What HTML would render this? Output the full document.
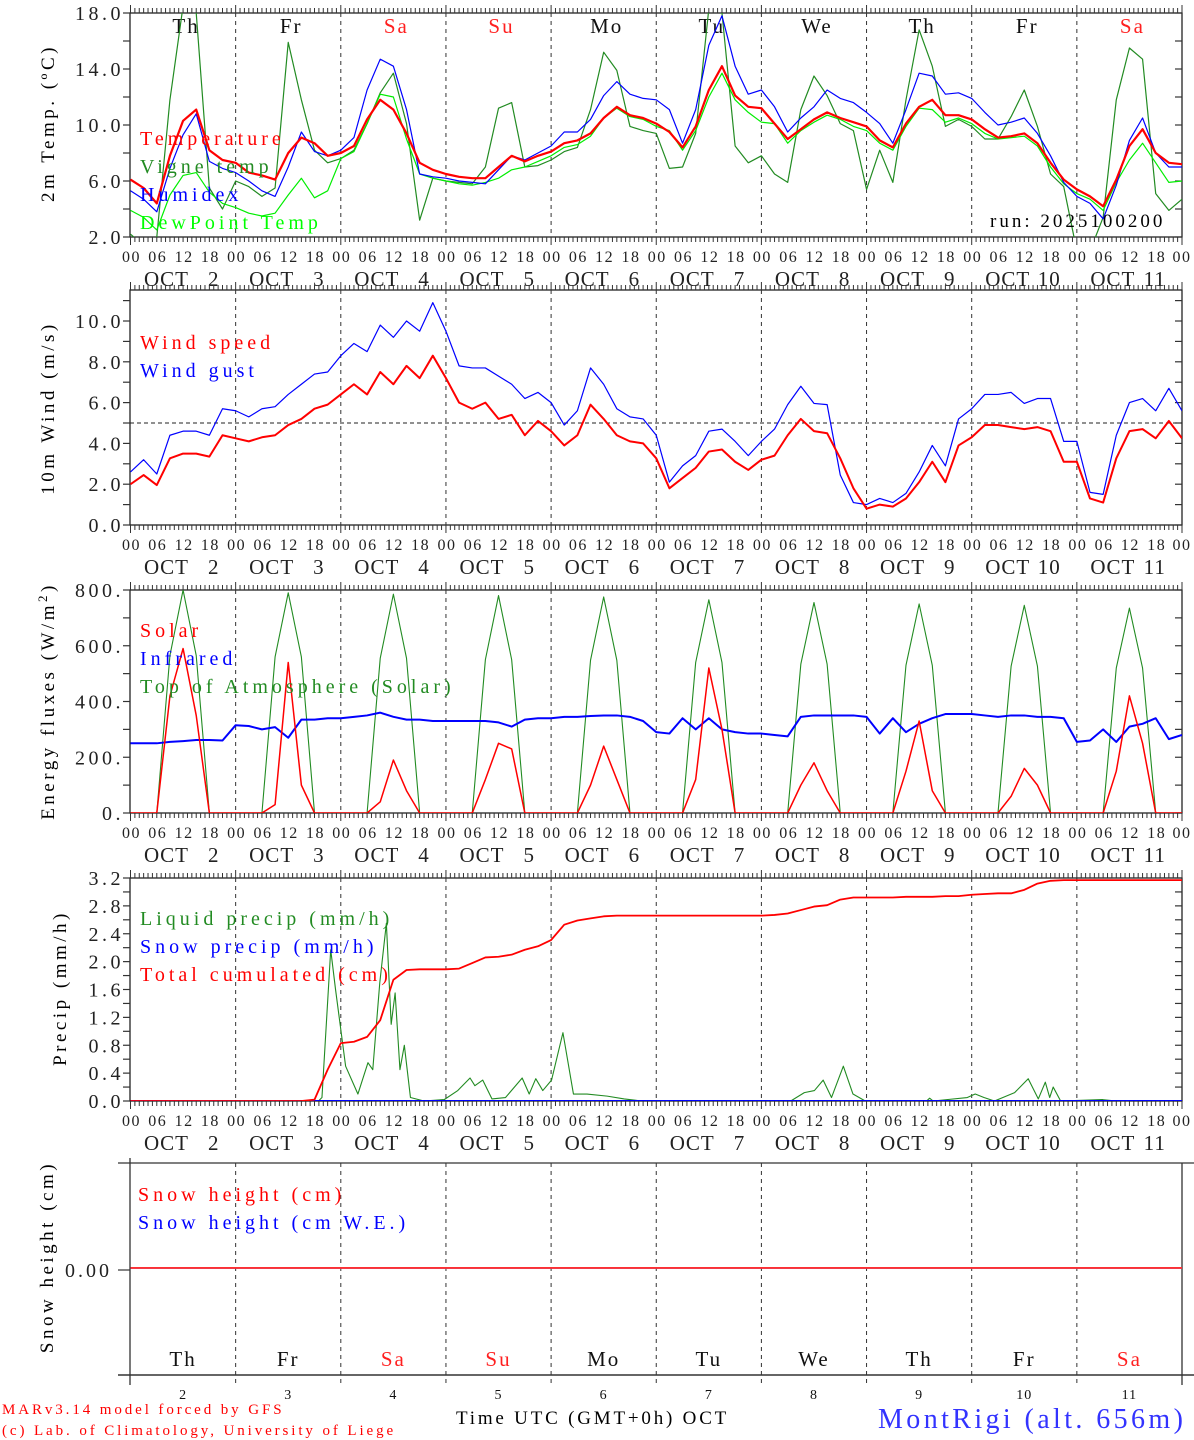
<!DOCTYPE html>
<html><head><meta charset="utf-8">
<style>
html,body{margin:0;padding:0;background:#fff;}
svg{display:block;font-family:"Liberation Serif",serif;}
.lg{letter-spacing:4px;}
.yt{letter-spacing:3.5px;}
</style></head>
<body>
<svg id="chart" width="1194" height="1440" viewBox="0 0 1194 1440" xmlns="http://www.w3.org/2000/svg">
<rect x="0" y="0" width="1194" height="1440" fill="#fff"/>
<defs>
<clipPath id="c1"><rect x="130" y="13" width="1052" height="224"/></clipPath>
<clipPath id="c2"><rect x="130" y="290" width="1052" height="235"/></clipPath>
<clipPath id="c3"><rect x="130" y="590" width="1052" height="223"/></clipPath>
<clipPath id="c4"><rect x="130" y="878" width="1052" height="223"/></clipPath>
</defs>
<g id="axes"></g>
<g id="marks"></g>
<!-- y titles -->
<text class="yt" transform="translate(54,123) rotate(-90)" text-anchor="middle" font-size="19">2m Temp. (ºC)</text>
<text class="yt" transform="translate(54,408) rotate(-90)" text-anchor="middle" font-size="19">10m Wind (m/s)</text>
<text class="yt" transform="translate(54,701) rotate(-90)" text-anchor="middle" font-size="19">Energy fluxes (W/m<tspan dy="-7" font-size="13">2</tspan><tspan dy="7">)</tspan></text>
<text class="yt" transform="translate(66,988) rotate(-90)" text-anchor="middle" font-size="19">Precip (mm/h)</text>
<text class="yt" transform="translate(53,1257) rotate(-90)" text-anchor="middle" font-size="19">Snow height (cm)</text>
<!-- legends -->
<g font-size="20" class="lg">
<text x="140" y="145" fill="#ff0000">Temperature</text>
<text x="140" y="173" fill="#228b22">Vigne temp</text>
<text x="140" y="201" fill="#0000ff">Humidex</text>
<text x="140" y="229" fill="#00ff00">DewPoint Temp</text>
<text x="990" y="227" fill="#000" font-size="19" style="letter-spacing:3px">run: 2025100200</text>
<text x="140" y="349" fill="#ff0000">Wind speed</text>
<text x="140" y="377" fill="#0000ff">Wind gust</text>
<text x="140" y="637" fill="#ff0000">Solar</text>
<text x="140" y="665" fill="#0000ff">Infrared</text>
<text x="140" y="693" fill="#228b22">Top of Atmosphere (Solar)</text>
<text x="140" y="925" fill="#228b22">Liquid precip (mm/h)</text>
<text x="140" y="953" fill="#0000ff">Snow precip (mm/h)</text>
<text x="140" y="981" fill="#ff0000">Total cumulated (cm)</text>
<text x="138" y="1201" fill="#ff0000">Snow height (cm)</text>
<text x="138" y="1229" fill="#0000ff">Snow height (cm W.E.)</text>
</g>
<text x="2" y="1414" fill="#ff0000" font-size="15" style="letter-spacing:2.9px">MARv3.14 model forced by GFS</text>
<text x="2" y="1435" fill="#ff0000" font-size="15" style="letter-spacing:2.9px">(c) Lab. of Climatology, University of Liege</text>
<text x="456" y="1424" fill="#000" font-size="19" style="letter-spacing:2.8px">Time UTC (GMT+0h) OCT</text>
<text x="878" y="1428" fill="#3333ff" font-size="28" style="letter-spacing:3.4px">MontRigi (alt. 656m)</text>
</svg>
<script>
// ---- data (3-hourly from Oct 2 00 UTC) ----
const hours = [0,3,6,9,12,15,18,21,24,27,30,33,36,39,42,45,48,51,54,57,60,63,66,69,72,75,78,81,84,87,90,93,96,99,102,105,108,111,114,117,120,123,126,129,132,135,138,141,144,147,150,153,156,159,162,165,168,171,174,177,180,183,186,189,192,195,198,201,204,207,210,213,216,219,222,225,228,231,234,237,240];
const dayNames = ["Th","Fr","Sa","Su","Mo","Tu","We","Th","Fr","Sa"];
const dayNums = ["2","3","4","5","6","7","8","9","10","11"];
const hourLabels = ["00","06","12","18"];
const tempTicks = [2,6,10,14,18];
const tempTickLabels = ["2.0","6.0","10.0","14.0","18.0"];
const windTicks = [0,2,4,6,8,10];
const windTickLabels = ["0.0","2.0","4.0","6.0","8.0","10.0"];
const fluxTicks = [0,200,400,600,800];
const fluxTickLabels = ["0.","200.","400.","600.","800."];
const precipTicks = [0,0.4,0.8,1.2,1.6,2.0,2.4,2.8,3.2];
const precipTickLabels = ["0.0","0.4","0.8","1.2","1.6","2.0","2.4","2.8","3.2"];

const temperature = [6.1,5.5,4.4,7.8,10.3,11.1,8.2,7.5, 7.3,6.6,6.4,6.1,8.0,9.1,8.7,7.8, 8.0,8.5,10.4,11.8,11.1,9.4,7.3,6.8, 6.5,6.3,6.2,6.2,7.0,7.8,7.4,7.8, 8.1,8.7,8.9,9.4,10.5,11.3,10.7,10.5, 10.1,9.5,8.4,9.9,12.5,14.2,12.1,11.3, 11.2,10.1,9.0,9.7,10.4,10.9,10.5,10.2, 9.9,8.9,8.4,10.1,11.3,11.8,10.7,10.7, 10.4,9.7,9.1,9.2,9.4,8.7,7.3,6.1, 5.4,4.9,4.2,6.1,8.5,9.7,8.0,7.3,7.2];
const humidex = [5.3,4.7,3.8,6.9,9.3,10.8,7.4,6.9, 6.6,6.0,5.3,4.9,7.0,9.5,8.1,7.8, 8.2,9.1,12.5,14.7,14.2,11.1,6.5,6.3, 6.2,6.0,5.9,5.8,6.8,7.8,7.5,8.0, 8.5,9.5,9.5,10.4,12.1,13.1,12.2,11.9, 11.8,11.1,8.7,11.1,15.7,17.8,14.2,12.2, 12.5,11.3,9.5,10.5,11.3,12.5,11.9,11.6, 10.9,10.1,8.7,11.1,13.7,13.5,12.2,12.3, 11.9,10.9,10.0,10.2,10.5,9.4,7.8,5.9, 4.9,4.4,3.3,5.7,8.9,10.5,8.0,7.0,7.0];
const dewpoint = [3.9,3.4,2.5,5.0,6.4,6.6,5.2,4.4, 4.1,3.7,3.5,3.7,5.0,6.2,4.8,5.3, 7.6,8.1,10.1,12.2,12.0,9.0,6.5,6.2, 6.0,5.8,5.7,5.9,6.2,6.8,7.0,7.4, 7.8,8.4,8.6,9.2,10.5,11.2,10.6,10.4, 9.9,9.6,8.2,9.6,12.0,13.7,11.8,10.9, 10.2,10.1,8.7,9.6,10.2,10.7,10.4,9.9, 9.6,8.7,8.2,9.9,11.2,11.1,10.2,10.5, 10.1,9.4,9.0,9.1,9.2,8.5,7.0,5.8, 5.1,4.7,3.9,5.9,7.5,8.7,7.3,5.9,6.0];
const vigneTemp = [2.2,1.4,2.0,11.8,18.5,18.0,5.5,4.0, 6.0,5.6,4.9,5.5,15.9,11.8,8.2,7.3, 7.6,8.2,10.1,12.3,13.7,10.1,3.2,6.2, 6.0,5.9,5.8,7.0,11.2,11.6,7.0,7.1, 7.5,8.1,8.4,11.1,15.2,13.9,9.9,9.6, 9.4,6.9,7.0,9.4,18.3,18.0,8.5,7.3, 7.8,6.5,5.9,11.1,13.5,12.1,10.1,9.6, 5.4,8.2,5.9,11.8,16.8,14.2,9.9,10.4, 9.9,9.0,9.0,10.6,12.5,9.9,6.5,5.6, 1.0,1.0,3.4,11.8,15.5,14.7,5.1,3.9,4.7];

const windSpeed = [2.0,2.45,1.96,3.27,3.5,3.5,3.35,4.4, 4.25,4.1,4.3,4.4,4.9,5.2,5.7,5.9, 6.4,6.9,6.4,7.5,6.9,7.8,7.2,8.3, 7.2,6.0,5.7,6.0,5.2,5.4,4.4,5.1, 4.6,3.9,4.4,5.9,5.2,4.4,4.1,4.0, 3.27,1.8,2.3,2.8,3.6,3.7,3.1,2.7, 3.2,3.4,4.4,5.2,4.6,4.5,3.27,1.8, 0.8,1.0,0.9,1.3,2.1,3.1,2.1,3.9, 4.3,4.9,4.9,4.8,4.7,4.8,4.6,3.1, 3.1,1.3,1.1,3.27,4.6,4.7,4.25,5.1,4.25];
const windGust = [2.6,3.2,2.5,4.4,4.6,4.6,4.4,5.7, 5.6,5.3,5.7,5.8,6.4,6.9,7.4,7.5, 8.3,8.9,8.5,9.8,9.2,10.0,9.5,10.9, 9.5,7.8,7.7,7.7,7.3,6.9,6.2,6.5, 6.0,4.9,5.6,7.7,6.9,5.7,5.3,5.2, 4.4,2.1,2.9,3.4,4.6,4.7,4.1,3.4, 4.1,4.7,5.9,6.8,5.96,5.9,2.45,1.1, 1.0,1.3,1.1,1.55,2.6,3.9,2.9,5.2, 5.7,6.4,6.4,6.5,5.96,6.2,6.2,4.1, 4.1,1.6,1.5,4.4,6.0,6.2,5.6,6.7,5.6];

const solar = [0,0,0,420,590,350,0,0, 0,0,0,30,540,100,0,0, 0,0,0,40,190,80,0,0, 0,0,0,120,250,230,0,0, 0,0,0,100,240,120,0,0, 0,0,0,120,520,300,0,0, 0,0,0,100,180,80,0,0, 0,0,0,150,330,80,0,0, 0,0,0,60,160,100,0,0, 0,0,0,150,420,250,0,0,0];
const infrared = [250,250,250,255,258,262,262,260, 315,312,300,308,270,335,335,340, 340,345,350,360,345,335,335,330, 330,330,330,330,325,310,335,340, 340,345,345,348,350,350,345,330, 290,285,340,300,340,300,290,285, 285,280,275,345,350,350,350,350, 345,285,340,290,320,340,355,355, 355,350,345,350,350,345,345,340, 255,260,300,255,310,320,340,265,280];
const toaSolar = [0,0,0,565,800,565,0,0, 0,0,0,560,790,560,0,0, 0,0,0,555,785,555,0,0, 0,0,0,550,780,550,0,0, 0,0,0,548,775,548,0,0, 0,0,0,540,765,540,0,0, 0,0,0,534,755,534,0,0, 0,0,0,530,750,530,0,0, 0,0,0,527,745,527,0,0, 0,0,0,520,735,520,0,0,0];

const totalCumulated = [0,0,0,0,0,0,0,0, 0,0,0,0,0,0,0.02,0.45, 0.83,0.85,0.92,1.16,1.74,1.88,1.89,1.89, 1.89,1.9,1.98,2.06,2.07,2.1,2.17,2.22, 2.31,2.53,2.59,2.62,2.65,2.66,2.66,2.66, 2.66,2.66,2.66,2.66,2.66,2.66,2.66,2.66, 2.66,2.67,2.69,2.74,2.79,2.81,2.89,2.92, 2.92,2.92,2.92,2.93,2.93,2.93,2.94,2.94, 2.96,2.97,2.98,2.98,3.03,3.12,3.16,3.17, 3.17,3.17,3.17,3.17,3.17,3.17,3.17,3.17,3.17];
const snowPrecip = [0,0,0,0,0,0,0,0,0,0,0,0,0,0,0,0,0,0,0,0,0,0,0,0,0,0,0,0,0,0,0,0,0,0,0,0,0,0,0,0,0,0,0,0,0,0,0,0,0,0,0,0,0,0,0,0,0,0,0,0,0,0,0,0,0,0,0,0,0,0,0,0,0,0,0,0,0,0,0,0,0];
const precipHours = [0,42.9,43.7,45.7,46.8,49.1,51.9,54.2,55.3,56.9,58.4,59.5,60.4,61.5,62.5,63.9,67.0,71.6,74.7,77.5,78.6,80.4,82.5,85.6,89.4,91.0,92.5,94.1,96.1,98.7,101.1,104.2,108.8,112.7,116.6,150.7,153.8,156.1,158.1,160.0,162.7,164.9,167.7,181.7,182.4,183.2,186.3,191.0,192.8,194.8,197.2,201.8,204.9,207.2,208.8,209.8,210.6,212.3,221.9,225.0,240];
const liquidPrecip = [0,0,0.05,2.17,1.6,0.5,0.1,0.55,0.45,1.7,2.55,1.1,1.55,0.45,0.8,0.05,0,0.02,0.15,0.33,0.22,0.3,0.03,0.05,0.33,0.1,0.32,0.15,0.3,0.98,0.1,0.1,0.07,0.03,0,0,0.12,0.15,0.3,0.05,0.5,0.1,0,0,0.04,0,0.02,0.05,0.1,0.05,0,0.12,0.32,0.03,0.27,0.05,0.2,0,0.02,0,0];
const snowHeight = [0,0,0,0,0,0,0,0,0,0,0,0,0,0,0,0,0,0,0,0,0,0,0,0,0,0,0,0,0,0,0,0,0,0,0,0,0,0,0,0,0,0,0,0,0,0,0,0,0,0,0,0,0,0,0,0,0,0,0,0,0,0,0,0,0,0,0,0,0,0,0,0,0,0,0,0,0,0,0,0,0];
const snowHeightWE = [0,0,0,0,0,0,0,0,0,0,0,0,0,0,0,0,0,0,0,0,0,0,0,0,0,0,0,0,0,0,0,0,0,0,0,0,0,0,0,0,0,0,0,0,0,0,0,0,0,0,0,0,0,0,0,0,0,0,0,0,0,0,0,0,0,0,0,0,0,0,0,0,0,0,0,0,0,0,0,0,0];

// ---- scales ----
const X0 = 130.5, X1 = 1182, T1 = 240;
function xScale(t){ return X0 + t*(X1-X0)/T1; }
function yScale(p, v){ return p.bottom - (v - p.min)*(p.bottom - p.top)/(p.max - p.min); }
const P1 = {top:13,bottom:237,min:2,max:18};
const P2 = {top:290,bottom:525,min:0,max:11.52};
const P3 = {top:590,bottom:813,min:0,max:800};
const P4 = {top:878,bottom:1101,min:0,max:3.2};
const P5 = {top:1163,bottom:1375,min:-1.02,max:1.0};

const NS = "http://www.w3.org/2000/svg";
const axes = document.getElementById('axes');
const marks = document.getElementById('marks');
function mk(tag, attrs, parent){
  const e = document.createElementNS(NS, tag);
  for (const k in attrs) e.setAttribute(k, attrs[k]);
  (parent||axes).appendChild(e);
  return e;
}

function drawPanel(p, id, ticks, tickLabels, minorStep, showHours){
  const g = mk('g', {}, axes);
  
  
  const fr = mk('rect', {x:130, y:p.top, width:1052, height:p.bottom-p.top, fill:'none', stroke:'#222', 'stroke-width':1.3}, g);
  
  
  for (let d=1; d<10; d++){
    const x = xScale(d*24);
    const l = mk('line', {x1:x, x2:x, y1:p.top, y2:p.bottom, stroke:'#333', 'stroke-width':1, 'stroke-dasharray':'4,4'}, g);
    
    
  }
  for (let h=0; h<=240; h++){
    const x = xScale(h);
    const len = (h%24===0) ? 8 : 5;
    mk('line', {x1:x, x2:x, y1:p.top-len, y2:p.top, stroke:'#333', 'stroke-width':1}, g);
    mk('line', {x1:x, x2:x, y1:p.bottom, y2:p.bottom+len, stroke:'#333', 'stroke-width':1}, g);
  }
  for (let v=p.min; v<=p.max+1e-6; v+=minorStep){
    const y = yScale(p, v);
    mk('line', {x1:123, x2:130, y1:y, y2:y, stroke:'#333', 'stroke-width':1.2}, g);
    mk('line', {x1:1175, x2:1182, y1:y, y2:y, stroke:'#333', 'stroke-width':1.2}, g);
  }
  for (let i=0; i<ticks.length; i++){
    const t = mk('text', {x:124, y:yScale(p, ticks[i])+7, 'text-anchor':'end', 'font-size':20, fill:'#222', 'letter-spacing':'3.5px'}, g);
    
    
    t.textContent = tickLabels[i];
  }
  if (showHours){
    for (let d=0; d<10; d++){
      for (let k=0; k<4; k++){
        const t = mk('text', {x:xScale(d*24+k*6)+1, y:p.bottom+25, 'text-anchor':'middle', 'font-size':16, fill:'#222', 'letter-spacing':'1.5px'}, g);
        
        
        t.textContent = hourLabels[k];
      }
      const o = mk('text', {x:xScale(d*24)+36, y:p.bottom+49, 'text-anchor':'middle', 'font-size':21, fill:'#222', 'letter-spacing':'1px'}, g);
      
      
      o.textContent = 'OCT';
      const n = mk('text', {x:xScale(d*24)+89, y:p.bottom+49, 'text-anchor':'end', 'font-size':21, fill:'#222', 'letter-spacing':'1px'}, g);
      
      
      n.textContent = dayNums[d];
    }
    const t = mk('text', {x:1182, y:p.bottom+25, 'text-anchor':'middle', 'font-size':16, fill:'#222', 'letter-spacing':'1.5px'}, g);
    
    
    t.textContent = '00';
  }
}
drawPanel(P1, 'temp', tempTicks, tempTickLabels, 2, true);
drawPanel(P2, 'wind', windTicks, windTickLabels, 1, true);
drawPanel(P3, 'flux', fluxTicks, fluxTickLabels, 100, true);
drawPanel(P4, 'precip', precipTicks, precipTickLabels, 0.2, true);

const wl = mk('line', {x1:130, x2:1182, y1:yScale(P2,5), y2:yScale(P2,5), stroke:'#222', 'stroke-width':1, 'stroke-dasharray':'4,3'}, axes);



for (let d=0; d<10; d++){
  const t = mk('text', {x:xScale(d*24+12)+3, y:33, 'text-anchor':'middle', 'font-size':21, fill:(dayNames[d]==='Sa'||dayNames[d]==='Su')?'#ff2020':'#111', 'letter-spacing':'2px'}, axes);
  
  
  t.textContent = dayNames[d];
}

(function(){
  const g = mk('g', {}, axes);
  
  
  mk('line', {x1:118, x2:1194, y1:P5.top, y2:P5.top, stroke:'#333', 'stroke-width':1.3}, g);
  mk('line', {x1:118, x2:1194, y1:P5.bottom, y2:P5.bottom, stroke:'#666', 'stroke-width':2}, g);
  mk('line', {x1:130, x2:130, y1:P5.top-5, y2:P5.bottom+10, stroke:'#333', 'stroke-width':1.3}, g);
  mk('line', {x1:1182, x2:1182, y1:P5.top, y2:P5.bottom+10, stroke:'#333', 'stroke-width':1.3}, g);
  mk('line', {x1:118, x2:130, y1:1270, y2:1270, stroke:'#333', 'stroke-width':1.2}, g);
  const tl = mk('text', {x:112, y:1277, 'text-anchor':'end', 'font-size':20, fill:'#222', 'letter-spacing':'3px'}, g);
  
  
  tl.textContent = '0.00';
  for (let d=1; d<10; d++){
    const x = xScale(d*24);
    const l = mk('line', {x1:x, x2:x, y1:P5.top, y2:P5.bottom+8, stroke:'#333', 'stroke-width':1, 'stroke-dasharray':'4,4'}, g);
    
    
  }
  for (let d=0; d<10; d++){
    const t = mk('text', {x:xScale(d*24+12), y:1366, 'text-anchor':'middle', 'font-size':21, fill:(dayNames[d]==='Sa'||dayNames[d]==='Su')?'#ff2020':'#111', 'letter-spacing':'2px'}, g);
    
    
    t.textContent = dayNames[d];
    const n = mk('text', {x:xScale(d*24+12), y:1399, 'text-anchor':'middle', 'font-size':14, fill:'#111', 'letter-spacing':'1px'}, g);
    
    
    n.textContent = dayNums[d];
  }
})();

function line(p, clip, ts, vs, color, w, name){
  let d = '';
  for (let i=0; i<vs.length; i++){
    d += (i? 'L':'M') + xScale(ts[i]).toFixed(2) + ',' + yScale(p, vs[i]).toFixed(2);
  }
  const e = mk('path', {d:d, fill:'none', stroke:color, 'stroke-width':w, 'stroke-linejoin':'round'}, marks);
  if (clip) e.setAttribute('clip-path', 'url(#'+clip+')');
  
  
  return e;
}
line(P1,'c1',hours,vigneTemp,'#228b22',1.2,'vigne-temp-line');
line(P1,'c1',hours,dewpoint,'#00ee00',1.2,'dewpoint-line');
line(P1,'c1',hours,humidex,'#0000ff',1.2,'humidex-line');
line(P1,'c1',hours,temperature,'#ff0000',2.2,'temperature-line');

line(P2,'c2',hours,windGust,'#0000ff',1.2,'wind-gust-line');
line(P2,'c2',hours,windSpeed,'#ff0000',2,'wind-speed-line');

line(P3,'c3',hours,toaSolar,'#228b22',1.1,'toa-solar-line');
line(P3,'c3',hours,infrared,'#0000ff',2,'infrared-line');
line(P3,'c3',hours,solar,'#ff0000',1.5,'solar-line');

line(P4,'c4',precipHours,liquidPrecip,'#228b22',1.1,'liquid-precip-line');
line(P4,'c4',hours,snowPrecip,'#0000ff',2,'snow-precip-line');
line(P4,'c4',hours,totalCumulated,'#ff0000',1.8,'total-cumulated-line');

line(P5,null,hours,snowHeightWE,'#0000ff',1.5,'snow-height-we-line');
line(P5,null,hours,snowHeight,'#ff3030',1.8,'snow-height-line');
</script>
</body></html>
